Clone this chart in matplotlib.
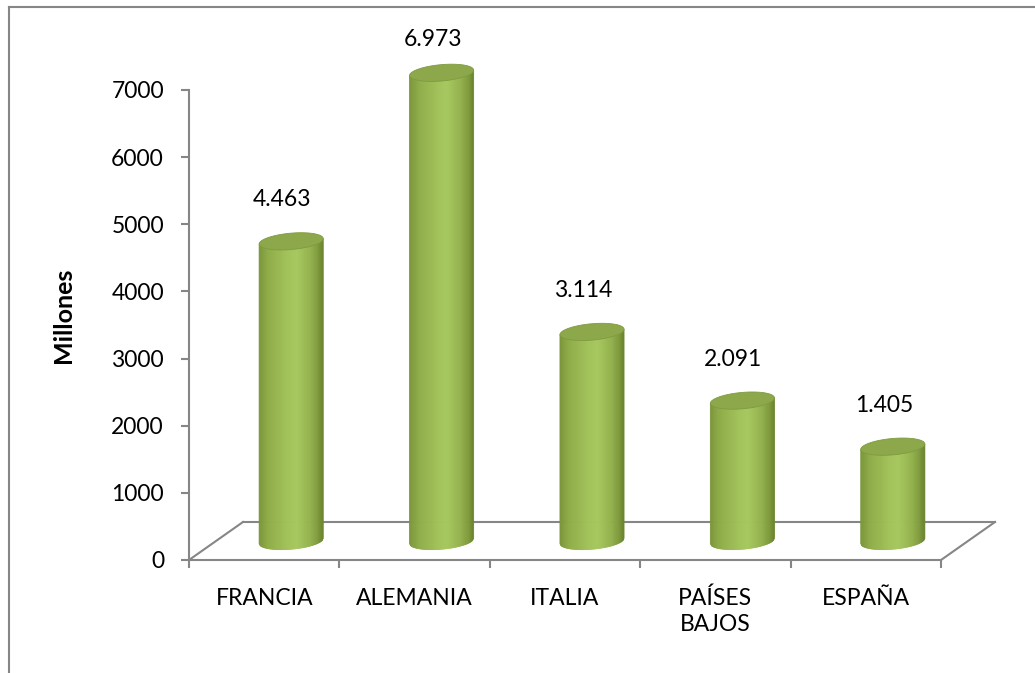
import numpy as np
import matplotlib
matplotlib.use("Agg")
import matplotlib.pyplot as plt
from matplotlib.collections import PolyCollection
from matplotlib.colors import LinearSegmentedColormap
from matplotlib.lines import Line2D

# data
paises = ["FRANCIA", "ALEMANIA", "ITALIA", "PAÍSES\nBAJOS", "ESPAÑA"]
valores = [4463, 6973, 3114, 2091, 1405]
yticks = [0, 1000, 2000, 3000, 4000, 5000, 6000, 7000]

plt.rcParams['font.family'] = ['Lato', 'DejaVu Sans']

fig = plt.figure(figsize=(10.35, 6.73), dpi=100)
W, H = 1035, 673
ax = fig.add_axes([189 / W, (H - 560) / H, (941 - 189) / W, (560 - 90) / H])
ax.set_xlim(-0.5, len(paises) - 0.5)
ax.set_ylim(0, 7000)

grey = '#868686'

# 3D depth of the floor, in data units (x categories, y value units)
DX, DY = 0.359, 566
# cylinder size
R, B, S = 0.213, 122, 40

# floor outline (back part)
x0, x1 = -0.5, len(paises) - 0.5
for (xa, ya), (xb, yb) in [((x0, 0), (x0 + DX, DY)),
                           ((x0 + DX, DY), (x1 + DX, DY)),
                           ((x1 + DX, DY), (x1, 0))]:
    ax.plot([xa, xb], [ya, yb], color=grey, lw=1.5, clip_on=False, zorder=1,
            solid_capstyle='projecting')

cmap = LinearSegmentedColormap.from_list('cyl', [
    (0.0, '#7b953a'), (0.15, '#8fad49'), (0.45, '#a2c25a'), (0.6, '#a7c75f'),
    (0.8, '#94b34e'), (0.93, '#7f9a3c'), (1.0, '#6a842f')])

N = 60
u = np.linspace(-1, 1, N + 1)
th = np.linspace(0, 2 * np.pi, 120)
for i, v in enumerate(valores):
    cx = i + DX / 2
    base = DY / 2
    top = base + v
    polys, cols = [], []
    for k in range(N):
        ua, ub = u[k], u[k + 1]
        xa, xb = cx + R * ua, cx + R * ub
        ya0 = base - B * np.sqrt(max(0, 1 - ua ** 2)) + S * ua
        yb0 = base - B * np.sqrt(max(0, 1 - ub ** 2)) + S * ub
        ya1 = top + S * ua
        yb1 = top + S * ub
        polys.append([(xa, ya0), (xb, yb0), (xb, yb1), (xa, ya1)])
        cols.append(cmap((k + 0.5) / N))
    pc = PolyCollection(polys, facecolors=cols, edgecolors=cols, linewidths=0.6,
                        clip_on=False, zorder=3)
    ax.add_collection(pc)
    ex = cx + R * np.cos(th)
    ey = top + B * np.sin(th) + S * np.cos(th)
    ax.fill(ex, ey, color='#8ca84b', ec='#7f9b40', lw=0.6, clip_on=False, zorder=4)
    ly = min(v + 899, 7745)
    ax.text(cx - 0.06, ly, f"{v:,}".replace(",", "."), ha='center', va='center',
            fontsize=16.5, color='black', zorder=5)

# axes styling
for sp in ['top', 'right']:
    ax.spines[sp].set_visible(False)
for sp in ['left', 'bottom']:
    ax.spines[sp].set_color(grey)
    ax.spines[sp].set_linewidth(1.5)
    ax.spines[sp].set_zorder(1)

ax.set_yticks(yticks)
ax.set_yticklabels([str(t) for t in yticks])
ax.tick_params(axis='y', direction='out', length=6, width=1.5, color=grey,
               pad=12, labelsize=16.5)

ax.set_xticks(np.arange(-0.5, len(paises), 1.0))
ax.set_xticklabels([])
ax.tick_params(axis='x', which='major', direction='out', length=6, width=1.5, color=grey)
ax.set_xticks(np.arange(len(paises)), minor=True)
ax.set_xticklabels(paises, minor=True)
ax.tick_params(axis='x', which='minor', length=0, pad=20, labelsize=16.5)
for t in ax.get_xticklabels(minor=True):
    t.set_linespacing(1.3)

ax.set_ylabel('Millones', fontsize=18, fontweight='bold')
ax.yaxis.set_label_coords((75 - 189) / 752, (560 - 315) / 470)
ax.patch.set_visible(False)

# chart frame (top and left visible)
fig.add_artist(Line2D([9 / W, 1.0], [(H - 7) / H, (H - 7) / H], color=grey, lw=1.5,
                      transform=fig.transFigure))
fig.add_artist(Line2D([9 / W, 9 / W], [0, (H - 7) / H], color=grey, lw=1.5,
                      transform=fig.transFigure))

fig.savefig('out.png', dpi=100, facecolor='white')
